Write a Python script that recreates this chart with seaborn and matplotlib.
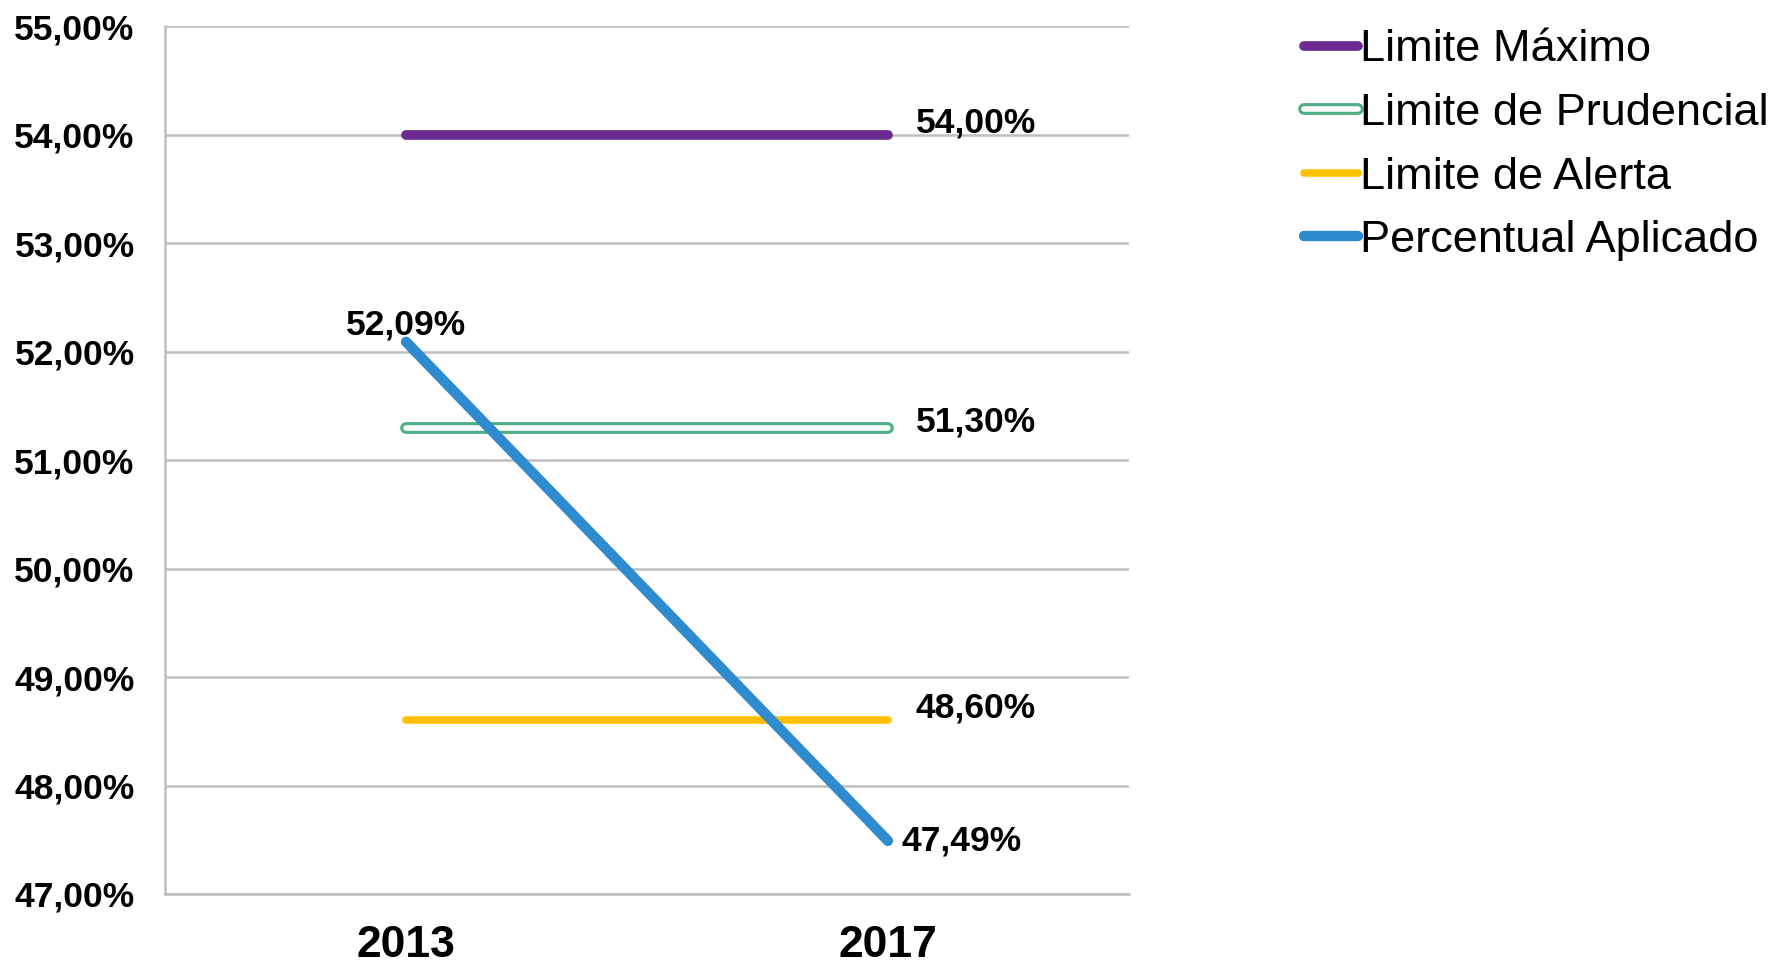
import pandas as pd
import matplotlib
matplotlib.use("Agg")
import matplotlib.pyplot as plt
import matplotlib.patheffects as pe
import seaborn as sns

anos = ["2013", "2017"]
limite_maximo = [54.00, 54.00]
limite_prudencial = [51.30, 51.30]
limite_alerta = [48.60, 48.60]
percentual_aplicado = [52.09, 47.49]

sns.set_style("white")
plt.rcParams['font.family'] = ['Liberation Sans', 'DejaVu Sans']
plt.rcParams['text.color'] = "black"
plt.rcParams['xtick.labelcolor'] = "black"
plt.rcParams['ytick.labelcolor'] = "black"

fig = plt.figure(figsize=(17.75, 9.67), dpi=100)
ax = fig.add_axes([0.093, 0.0755, 0.543, 0.8975])

roxo = "#6B2A8F"
verde = "#4FAE85"
amarelo = "#FFC000"
azul = "#2F8BCF"

sns.lineplot(x=anos, y=limite_maximo, ax=ax, color=roxo, lw=7,
             solid_capstyle="round", label="Limite Máximo")
sns.lineplot(x=anos, y=limite_prudencial, ax=ax, color="white", lw=4,
             solid_capstyle="round", label="Limite de Prudencial",
             path_effects=[pe.Stroke(linewidth=8.5, foreground=verde), pe.Normal()])
sns.lineplot(x=anos, y=limite_alerta, ax=ax, color=amarelo, lw=5.5,
             solid_capstyle="round", label="Limite de Alerta")
sns.lineplot(x=anos, y=percentual_aplicado, ax=ax, color=azul, lw=7.5,
             solid_capstyle="round", label="Percentual Aplicado")

ax.set_xlim(-0.5, 1.5)
ax.set_ylim(47, 55)
ax.set_yticks(range(47, 56))
ax.set_yticklabels([f"{v},00%" for v in range(47, 56)])
ax.set_xticks([0, 1])
ax.set_xticklabels(anos)
ax.set_xticks([-0.5, 0.5, 1.5], minor=True)
ax.tick_params(axis="x", which="major", length=0, pad=22, labelsize=32)
ax.tick_params(axis="x", which="minor", length=10, width=1.5, color="#BFBFBF")
ax.tick_params(axis="y", length=10, width=1.5, color="#BFBFBF", labelsize=25.5, pad=12)
for lab in ax.get_xticklabels() + ax.get_yticklabels():
    lab.set_fontweight("bold")
ax.set_xlabel("")
ax.set_ylabel("")

ax.grid(axis="y", color="#BFBFBF", lw=1.8)
ax.grid(axis="x", visible=False)
for s in ["top", "right"]:
    ax.spines[s].set_visible(False)
for s in ["left", "bottom"]:
    ax.spines[s].set_color("#BFBFBF")
    ax.spines[s].set_linewidth(1.8)

def rotulo(x, y, dx, dy, ha="left"):
    ax.annotate(f"{y:.2f}%".replace(".", ","), (x, y), xytext=(dx, dy),
                textcoords="offset points", ha=ha, va="center",
                fontsize=25.5, fontweight="bold")

rotulo(1, limite_maximo[1], 20, 8)
rotulo(1, limite_prudencial[1], 20, 4)
rotulo(1, limite_alerta[1], 20, 9)
rotulo(1, percentual_aplicado[1], 10, 0)
rotulo(0, percentual_aplicado[0], 0, 12, ha="center")

leg = ax.legend(loc="upper left", bbox_to_anchor=(1.163, 1.017), frameon=False,
                fontsize=32.5, handlelength=1.2, handletextpad=0.05,
                labelspacing=0.5, borderaxespad=0)

fig.savefig("out.png", dpi=100)
